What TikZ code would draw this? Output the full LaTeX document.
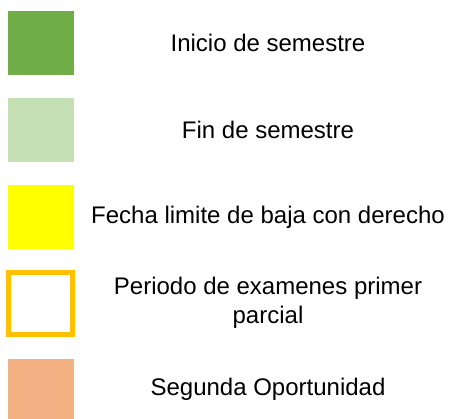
\documentclass[tikz,border=0pt]{standalone}
\usepackage{fontspec}
\setmainfont{Liberation Sans}
\definecolor{InicioGreen}{RGB}{112, 173, 71}
\definecolor{FinGreen}{RGB}{197, 224, 180}
\definecolor{BajaYellow}{RGB}{255, 255, 0}
\definecolor{ExamOrange}{RGB}{255, 192, 0}
\definecolor{SegundaSalmon}{RGB}{244, 177, 131}
\usetikzlibrary{positioning}

\begin{document}
\begin{tikzpicture}[x=1pt, y=-1pt, every node/.style={font=\fontsize{24}{29}\selectfont, align=center, inner sep=0pt}]
        % Canvas
        \useasboundingbox (0,0) rectangle (459,419);

        % Inicio de semestre
        \fill[InicioGreen] (8,11) rectangle (74,75);
        \node (inicio) at (268,43) {Inicio de semestre};

        % Fin de semestre
        \fill[FinGreen] (8,98) rectangle (74,162);
        \node (fin) at (268,130) {Fin de semestre};

        % Fecha limite
        \fill[BajaYellow] (8,185) rectangle (74,249);
        \node (baja) at (268,217) {Fecha limite de baja con derecho};

        % Examenes
        \draw[ExamOrange, line width=5] (8.5,272.5) rectangle (72.5,335);
        \node (examenes) at (268,303) {Periodo de examenes primer\\parcial};

        % Segunda oportunidad
        \fill[SegundaSalmon] (8,359) rectangle (74,419);
        \node (segunda) at (268,389) {Segunda Oportunidad};
    \end{tikzpicture}
\end{document}
